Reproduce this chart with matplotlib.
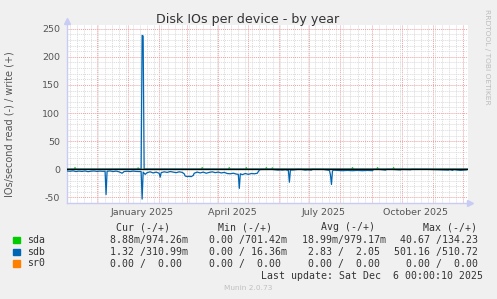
import pandas as pd
import matplotlib
matplotlib.use('Agg')
import matplotlib.pyplot as plt
import matplotlib.dates as mdates
from matplotlib.ticker import MultipleLocator, NullFormatter
from matplotlib.patches import Rectangle

plt.rcParams['axes.unicode_minus'] = False

# time window shown (400 days back from the last update)
start = pd.Timestamp('2024-11-01')
end = pd.Timestamp('2025-12-06')

# sdb reads per day (plotted below zero), days counted from start
sdb_read_days = [0, 3, 6, 9, 12, 15, 18, 21, 24, 27, 30, 33, 36, 38, 39, 40, 43, 46,
                 49, 52, 55, 57, 60, 63, 66, 69, 72, 74, 75, 76, 78, 80, 83, 86, 89,
                 92, 93, 94, 97, 100, 103, 106, 109, 112, 115, 117, 118, 120, 122,
                 124, 126, 127, 130, 133, 136, 139, 142, 145, 148, 151, 154, 157,
                 160, 163, 166, 169, 171, 172, 173, 175, 178, 181, 184, 187, 190,
                 191, 192, 193, 196, 205, 211, 213, 215, 218, 221, 222, 223, 226,
                 230, 234, 238, 240, 244, 245, 250, 256, 262, 263, 264, 265, 266,
                 270, 275, 280, 285, 290, 295, 300, 305, 306, 312, 318, 319, 325,
                 333, 334, 343, 344, 360, 381, 382, 385, 386, 390, 393, 396, 399]
sdb_read = [3.0, 3.5, 2.8, 4.0, 3.2, 3.8, 3.0, 4.2, 3.4, 3.0, 3.8, 3.2, 3.6, 3.4, 45, 3.5, 3.0, 4.0,
            3.2, 4.5, 7.0, 4.0, 3.5, 4.0, 3.2, 3.8, 4.0, 4.0, 53, 5.0, 9.0, 6.0, 4.5, 6.5, 5.0,
            7.0, 14, 6.0, 4.5, 5.5, 4.0, 5.0, 6.0, 4.5, 5.5, 8.0, 12, 13, 12.5,
            13, 11, 7.0, 5.0, 6.5, 5.0, 7.0, 5.5, 4.5, 6.0, 5.0, 6.5, 5.5,
            7.5, 8.0, 7.0, 8.5, 9.0, 34, 8.0, 9.5, 7.5, 9.0, 7.5, 8.0, 7.0,
            4.0, 1.5, 0.5, 0.3, 0.3, 1.5, 1.0, 1.5, 0.8, 2.0, 23, 1.5, 1.2,
            0.3, 0.3, 1.5, 1.0, 1.5, 0.2, 0.3, 0.3, 2.0, 10, 27, 3.0, 1.5,
            2.0, 2.5, 2.0, 2.5, 2.0, 2.5, 2.0, 2.5, 0.3, 0.3, 1.5, 0.3, 0.3,
            1.2, 0.3, 0.8, 0.2, 0.2, 1.5, 0.5, 2.0, 0.5, 1.5, 2.0, 1.5, 1.0]

# sdb writes per day (plotted above zero)
sdb_write_days = [0, 74, 75, 76, 77, 400]
sdb_write = [0.3, 0.5, 238, 237, 0.5, 0.3]

# sda writes per day
sda_write_days = [0, 7, 8, 9, 70, 71, 72, 134, 135, 136, 161, 162, 163, 178, 179, 180,
                  198, 199, 200, 204, 205, 206, 284, 285, 286, 309, 310, 311, 325, 326,
                  327, 400]
sda_write = [0.3, 0.3, 3.0, 0.3, 0.3, 2.6, 0.3, 0.3, 3.0, 0.3, 0.3, 3.0, 0.3, 0.3, 3.0, 0.3,
             0.3, 3.0, 0.3, 0.3, 2.6, 0.3, 0.3, 3.0, 0.3, 0.3, 3.0, 0.3, 0.3, 3.0,
             0.3, 0.3]

# sr0 never does anything
sr0_days = [0, 400]
sr0_vals = [0.0, 0.0]

devices = ['sda', 'sdb', 'sr0']
colors = ['#00cc00', '#0066b3', '#ff8000']
cur_col = ['  8.88m/974.26m', '  1.32 /310.99m', '  0.00 /  0.00 ']
min_col = ['  0.00 /701.42m', '  0.00 / 16.36m', '  0.00 /  0.00 ']
avg_col = [' 18.99m/979.17m', '  2.83 /  2.05 ', '  0.00 /  0.00 ']
max_col = [' 40.67 /134.23', '501.16 /510.72', '  0.00 /  0.00']
headers = ['Cur (-/+)', 'Min (-/+)', 'Avg (-/+)', 'Max (-/+)']

label_dates = ['2025-01-15', '2025-04-15', '2025-07-15', '2025-10-15']
label_text = ['January 2025', 'April 2025', 'July 2025', 'October 2025']


def to_dates(days):
    return start + pd.to_timedelta(days, unit='D')


W, H = 497, 299
fig = plt.figure(figsize=(W / 100, H / 100), dpi=100, facecolor='#f0f0f0')
ax = fig.add_axes([67 / W, 1 - 202.7 / H, 400.7 / W, 177.7 / H])
ax.set_facecolor('white')

# data lines, munin order: sda, sdb, sr0
ax.plot(to_dates(sda_write_days), sda_write, color=colors[0], lw=0.8, zorder=3)
ax.plot(to_dates(sdb_read_days), [-v for v in sdb_read], color=colors[1], lw=0.9, zorder=3)
ax.plot(to_dates(sdb_write_days), sdb_write, color=colors[1], lw=0.9, zorder=3)
ax.plot(to_dates(sr0_days), sr0_vals, color=colors[2], lw=0.8, zorder=3)
ax.axhline(0, color='black', lw=0.9, zorder=4)

ax.set_xlim(start, end)
ax.set_ylim(-59.4, 256.5)

# grid: months red, weeks grey; 50s red, 10s grey
ax.xaxis.set_major_locator(mdates.MonthLocator())
ax.xaxis.set_minor_locator(mdates.WeekdayLocator(byweekday=mdates.MO))
ax.xaxis.set_major_formatter(NullFormatter())
ax.yaxis.set_major_locator(MultipleLocator(50))
ax.yaxis.set_minor_locator(MultipleLocator(10))
ax.set_axisbelow(True)
ax.grid(which='minor', color='#dadada', ls=(0, (1, 1)), lw=0.7)
ax.grid(which='major', color='#eea0a0', ls=(0, (1, 1)), lw=0.7)

ax.tick_params(axis='x', which='both', length=0)
ax.tick_params(axis='y', which='both', length=0, pad=5, labelsize=6.8, labelcolor='#555555')

for s in ['top', 'right']:
    ax.spines[s].set_visible(False)
for s in ['left', 'bottom']:
    ax.spines[s].set_color('#c8ccf4')
    ax.spines[s].set_linewidth(1.0)
ax.plot([0], [1.02], marker='^', ms=4, color='#c8ccf4', transform=ax.transAxes, clip_on=False)
ax.plot([1.005], [0], marker='>', ms=4, color='#c8ccf4', transform=ax.transAxes, clip_on=False)

for d, t in zip(label_dates, label_text):
    ax.text(pd.Timestamp(d), -10 / 177.7, t, transform=ax.get_xaxis_transform(),
            ha='center', va='center', fontsize=6.8, color='#555555')

fig.text(248 / W, 1 - 23.5 / H, 'Disk IOs per device - by year', ha='center',
         va='baseline', fontsize=9.1, color='#333333')
fig.text(10 / W, 1 - 124 / H, 'IOs/second read (-) / write (+)', rotation=90,
         ha='center', va='center', fontsize=7, color='#555555')
fig.text(487 / W, 1 - 57 / H, 'RRDTOOL / TOBI OETIKER', rotation=270,
         ha='center', va='center', fontsize=5.4, color='#bdbdbd')

# legend block
mono = dict(family='DejaVu Sans Mono', fontsize=7.1, color='#333333', va='center')
for x, h in zip([116, 218, 321, 423], headers):
    fig.text(x / W, 1 - 227.3 / H, h, ha='left', **mono)
rows_y = [240, 252, 263.5]
for i, name in enumerate(devices):
    y = rows_y[i]
    fig.patches.append(Rectangle((13.3 / W, 1 - (y + 3.3) / H), 6.5 / W, 6.5 / H,
                                 transform=fig.transFigure, color=colors[i]))
    fig.text(26.7 / W, 1 - y / H, name, ha='left', **mono)
    fig.text(98 / W, 1 - y / H, cur_col[i], ha='left', **mono)
    fig.text(197 / W, 1 - y / H, min_col[i], ha='left', **mono)
    fig.text(296 / W, 1 - y / H, avg_col[i], ha='left', **mono)
    fig.text(394 / W, 1 - y / H, max_col[i], ha='left', **mono)
fig.text(483 / W, 1 - 275.7 / H, 'Last update: Sat Dec  6 00:00:10 2025', ha='right', **mono)
fig.text(248 / W, 1 - 288 / H, 'Munin 2.0.73', ha='center', va='center',
         fontsize=5.3, color='#c0c0c0')

fig.savefig('out.png', dpi=100, facecolor=fig.get_facecolor())
